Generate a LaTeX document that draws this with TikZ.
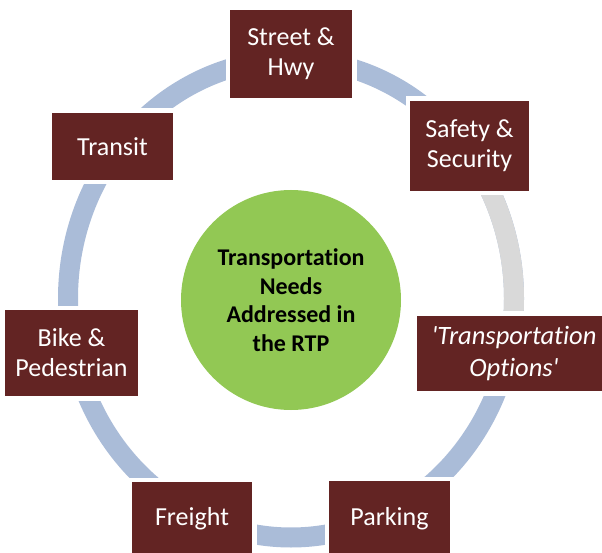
\documentclass[tikz,border=0pt]{standalone}
\usepackage{fontspec}
\setmainfont{Carlito}[Ligatures={NoCommon}]
\definecolor{boxred}{RGB}{99,36,35}
\definecolor{ringblue}{RGB}{170,188,216}
\definecolor{ringgray}{RGB}{217,217,217}
\definecolor{hubgreen}{RGB}{146,200,84}
\begin{document}
\begin{tikzpicture}[x=1pt,y=-1pt,
  cat/.style={fill=boxred, draw=white, line width=4.5pt, text=white, inner sep=0pt, align=center,
              font=\fontsize{26}{30}\selectfont},
  ring/.style={draw=ringblue, line width=20pt},
  grayseg/.style={draw=ringgray, line width=20pt},
  hub/.style={circle, fill=hubgreen, inner sep=0pt, minimum size=220pt, align=center,
              font=\bfseries\fontsize{24}{28.5}\selectfont}]
\clip (0,0) rectangle (602,553);
\useasboundingbox (0,0) rectangle (602,553);
% ring
\coordinate (rc) at (291,298.5);
\draw[ring] (rc) ellipse [x radius=223pt, y radius=239pt];
\draw[grayseg] (rc) ++(-8:223pt and 239pt) arc[start angle=-8, end angle=32, x radius=223pt, y radius=239pt];
% hub
\node[hub] (center) at (291,300) {Transportation\\Needs\\Addressed in\\the RTP};
% boxes
\node[cat, minimum width=126.5pt, minimum height=92.5pt] (street) at (291,54) {Street \&\\Hwy};
\node[cat, minimum width=123.5pt, minimum height=94.5pt] (safety) at (469.5,146) {Safety \&\\Security};
\node[cat, minimum width=125.5pt, minimum height=71.5pt] (transit) at (112.5,146.5) {Transit};
\node[cat, minimum width=137.5pt, minimum height=90.5pt] (bike) at (71.5,353) {Bike \&\\Pedestrian};
\node[cat, minimum width=199.5pt, minimum height=80pt, font=\itshape\fontsize{26.5}{31.5}\selectfont] (options) at (514,353.5) {\textquotesingle Transportation\\Options\textquotesingle};
\node[cat, minimum width=124.5pt, minimum height=78.5pt] (freight) at (192,519) {Freight};
\node[cat, minimum width=125.5pt, minimum height=79.5pt] (parking) at (389.5,518.5) {Parking};
\end{tikzpicture}
\end{document}
